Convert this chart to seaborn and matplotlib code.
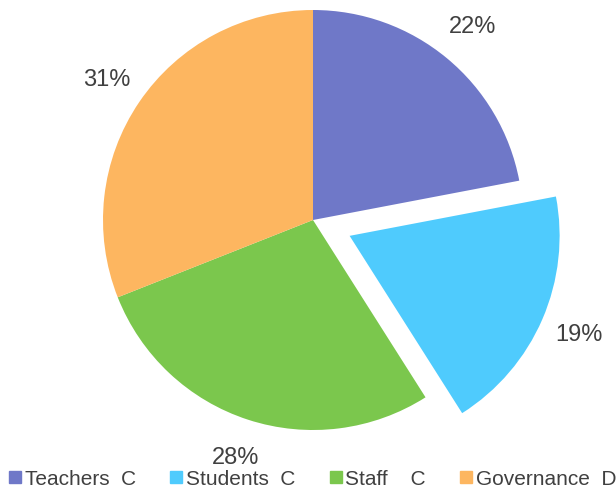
import matplotlib
matplotlib.use("Agg")
import matplotlib.pyplot as plt
from matplotlib.lines import Line2D
import seaborn as sns

# data
labels = ["Teachers  C", "Students  C", "Staff    C", "Governance  D"]
shares = [22, 19, 28, 31]
colors = ["#6F78C8", "#4FCBFD", "#7BC74D", "#FDB660"]
explode = [0, 0.19, 0, 0]

sns.set_theme(style="white")
plt.rcParams['font.family'] = ['Liberation Sans', 'DejaVu Sans']

fig = plt.figure(figsize=(6.16, 4.88), dpi=100)
ax = fig.add_axes([103 / 616, 58 / 488, 420 / 616, 420 / 488])

wedges, texts, autotexts = ax.pie(
    shares, colors=colors, explode=explode, startangle=90, counterclock=False,
    autopct="%d%%", pctdistance=1.19, radius=1,
    wedgeprops=dict(linewidth=0),
    textprops=dict(fontsize=17, color="#404040"),
)
for w in wedges:
    w.set_clip_on(False)
ax.set_xlim(-1, 1)
ax.set_ylim(-1, 1)
ax.set_aspect("auto")
ax.axis("off")

handles = [Line2D([], [], marker="s", linestyle="", markersize=8,
                  markerfacecolor=c, markeredgecolor=c) for c in colors]
fig.legend(handles, labels, loc="lower center", bbox_to_anchor=(0.505, -0.04),
           ncol=4, frameon=False, fontsize=15, handletextpad=0.0,
           handlelength=0.9, columnspacing=1.5, labelcolor="#404040")

fig.savefig("out.png", dpi=100)
